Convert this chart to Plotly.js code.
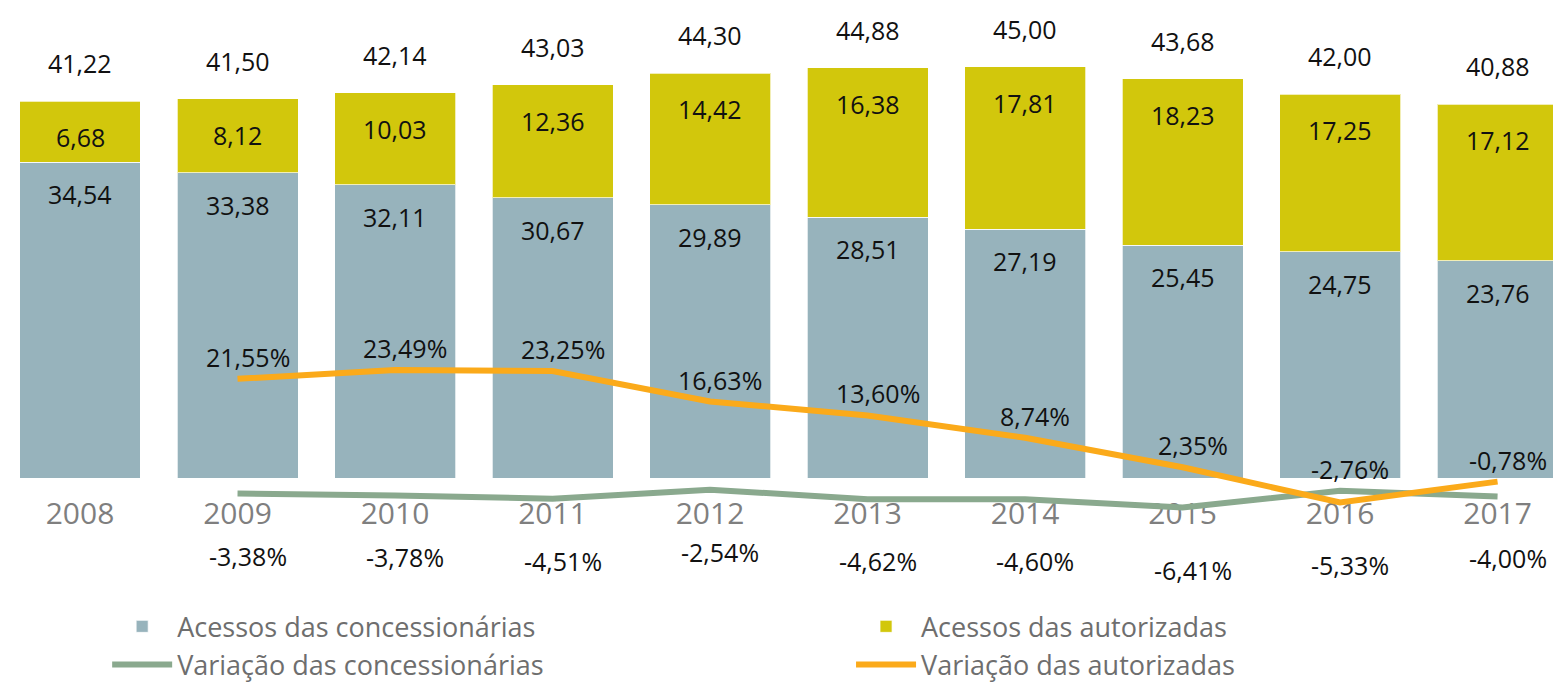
<!DOCTYPE html>
<html>
<head>
<meta charset="utf-8">
<script src="https://cdn.plot.ly/plotly-3.0.1.min.js"></script>
<style>html,body{margin:0;padding:0;background:#fff;}#chart{width:1553px;height:686px;}</style>
</head>
<body>
<div id="chart"></div>
<script>
// ---- data ----
const years = ['2008','2009','2010','2011','2012','2013','2014','2015','2016','2017'];
const concessionarias = [34.54, 33.38, 32.11, 30.67, 29.89, 28.51, 27.19, 25.45, 24.75, 23.76];
const autorizadas = [6.68, 8.12, 10.03, 12.36, 14.42, 16.38, 17.81, 18.23, 17.25, 17.12];
const totais = [41.22, 41.50, 42.14, 43.03, 44.30, 44.88, 45.00, 43.68, 42.00, 40.88];
// line values as plotted (%)
const varConcessionarias = [null, -3.38, -3.78, -4.51, -2.54, -4.62, -4.60, -6.41, -2.76, -4.00];
const varAutorizadas = [null, 21.55, 23.49, 23.25, 16.63, 13.60, 8.74, 2.35, -5.33, -0.78];
// labels as printed on the chart (%)
const labelAutorizadas = [null, 21.55, 23.49, 23.25, 16.63, 13.60, 8.74, 2.35, -2.76, -0.78];
const labelConcessionarias = [null, -3.38, -3.78, -4.51, -2.54, -4.62, -4.60, -6.41, -5.33, -4.00];

const names = ['Acessos das concessionárias','Acessos das autorizadas','Variação das concessionárias','Variação das autorizadas'];

// ---- style ----
const FONT = 'Open Sans, sans-serif';
const cBlue = '#97b3bc', cYellow = '#d2c70c', cGreen = '#8aa98e', cOrange = '#fbaa1a';
const fmt = v => v.toFixed(2).replace('.', ',');

const traces = [
  {type:'bar', x: years, y: concessionarias, name: names[0], legend:'legend',
   marker:{color:cBlue, line:{color:'rgba(255,255,255,0.7)', width:1}}, hoverinfo:'skip'},
  {type:'bar', x: years, y: autorizadas, name: names[1], legend:'legend2',
   marker:{color:cYellow, line:{color:'rgba(255,255,255,0.7)', width:1}}, hoverinfo:'skip'},
  {type:'scatter', mode:'lines', x: years, y: varConcessionarias, yaxis:'y2', name: names[2], legend:'legend',
   line:{color:cGreen, width:6}, hoverinfo:'skip'},
  {type:'scatter', mode:'lines', x: years, y: varAutorizadas, yaxis:'y2', name: names[3], legend:'legend2',
   line:{color:cOrange, width:6}, hoverinfo:'skip'}
];

const ann = [];
function lblFont(){ return {family: FONT, size: 25, color: '#111111'}; }
for (let i = 0; i < years.length; i++) {
  ann.push({x: i, y: totais[i], xref:'x', yref:'y', text: fmt(totais[i]), showarrow:false, yshift: 38, font: lblFont()});
  ann.push({x: i, y: totais[i], xref:'x', yref:'y', text: fmt(autorizadas[i]), showarrow:false, yshift: -36, font: lblFont()});
  ann.push({x: i, y: concessionarias[i], xref:'x', yref:'y', text: fmt(concessionarias[i]), showarrow:false, yshift: -32, font: lblFont()});
  if (labelAutorizadas[i] !== null) {
    ann.push({x: i, y: labelAutorizadas[i], xref:'x', yref:'y2', text: fmt(labelAutorizadas[i]) + '%', showarrow:false, yshift: 22, xshift: 10, font: lblFont()});
  }
  if (labelConcessionarias[i] !== null) {
    ann.push({x: i, y: labelConcessionarias[i], xref:'x', yref:'y2', text: fmt(labelConcessionarias[i]) + '%', showarrow:false, yshift: -62, xshift: 10, font: lblFont()});
  }
}

function legendCfg(x){
  return {x: x, y: 0.122, xref:'container', yref:'container', orientation:'v', yanchor:'top', xanchor:'left',
    bgcolor:'rgba(0,0,0,0)', font:{family: FONT, size: 27, color:'#6e6e6e'}, itemwidth: 60,
    traceorder:'normal', tracegroupgap: 0};
}

const layout = {
  width: 1553, height: 686,
  margin: {l: 0, r: 0, t: 0, b: 156, autoexpand:false},
  paper_bgcolor: '#fff', plot_bgcolor: '#fff',
  barmode: 'stack', bargap: 0.232,
  font: {family: FONT},
  showlegend: true,
  xaxis: {type:'category', range: [-0.508, 9.352], anchor:'free', position: 0.0981,
    showline:false, showgrid:false, zeroline:false, ticks:'outside', ticklen: 9, tickcolor:'rgba(0,0,0,0)',
    tickfont:{family: FONT, size: 30, color:'#7f7f7f'}, layer:'below traces', fixedrange:true},
  yaxis: {range: [-5.69, 52.30], visible:false, showgrid:false, zeroline:false, fixedrange:true},
  yaxis2: {range: [-11.30, 103.9], overlaying:'y', side:'right', visible:false, showgrid:false, zeroline:false, fixedrange:true},
  legend: legendCfg(0.069),
  legend2: legendCfg(0.548),
  annotations: ann
};

Plotly.newPlot('chart', traces, layout, {displayModeBar:false, staticPlot:true});
</script>
</body>
</html>
